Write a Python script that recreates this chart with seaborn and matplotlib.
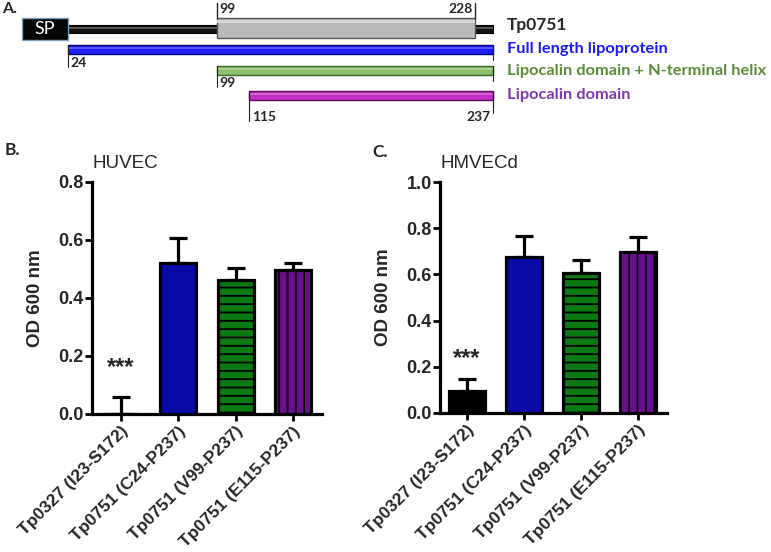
import matplotlib
matplotlib.use("Agg")
import matplotlib.pyplot as plt
import seaborn as sns
import numpy as np
from matplotlib.patches import Rectangle

# ---------------- data ----------------
categories = ["Tp0327 (I23-S172)", "Tp0751 (C24-P237)", "Tp0751 (V99-P237)", "Tp0751 (E115-P237)"]
huvec_mean = [0.0, 0.52, 0.462, 0.497]
huvec_err = [0.06, 0.086, 0.040, 0.023]
hmvec_mean = [0.095, 0.677, 0.605, 0.696]
hmvec_err = [0.051, 0.090, 0.058, 0.065]
bar_colors = ["#000000", "#0a0aa6", "#0b7a12", "#6c0f8e"]
bar_hatches = ["", "", "--", "||"]

# Panel A: residue numbers of the constructs
sp_range = (1, 24)
protein_end = 237
lipocalin_box = (99, 228)
constructs = [(24, 237), (99, 237), (115, 237)]
construct_names = ["Full length lipoprotein", "Lipocalin domain + N-terminal helix", "Lipocalin domain"]
construct_colors = ["#1e1eff", "#8cbf6c", "#c22fc4"]
construct_edges = ["#00007a", "#3d6a2a", "#5e0a60"]
construct_text_colors = ["#1a1aff", "#5b8c3a", "#8038b0"]

W, H = 771, 552
sns.set_style("ticks")
plt.rcParams["font.family"] = ["Liberation Sans", "DejaVu Sans"]
plt.rcParams["hatch.linewidth"] = 1.3

fig = plt.figure(figsize=(W / 100, H / 100), dpi=100)

# ---------------- Panel A ----------------
axA = fig.add_axes([0, 0, 1, 1], zorder=0)
a0, b0 = 20.0, 1.9945
axA.set_xlim((0 - a0) / b0, (W - a0) / b0)
axA.set_ylim(H, 0)
axA.axis("off")
afont = ["Lato", "DejaVu Sans"]
num_fs = 10

# backbone line
axA.add_patch(Rectangle((sp_range[1], 25), protein_end - sp_range[1], 8, facecolor="#111111", edgecolor="#000000", lw=0.8))
axA.add_patch(Rectangle((sp_range[1], 27), protein_end - sp_range[1], 1.5, facecolor="#555555", edgecolor="none"))
# SP box
axA.add_patch(Rectangle((sp_range[0], 18), sp_range[1] - sp_range[0], 22, facecolor="#050505", edgecolor="#7f9fbf", lw=1.0))
axA.text((sp_range[0] + sp_range[1]) / 2, 29, "SP", color="white", ha="center", va="center", fontsize=13, family=afont)
# lipocalin grey box
axA.add_patch(Rectangle((lipocalin_box[0], 18), lipocalin_box[1] - lipocalin_box[0], 20, facecolor="#b9b9b9", edgecolor="#555555", lw=1.0))
axA.add_patch(Rectangle((lipocalin_box[0], 20), lipocalin_box[1] - lipocalin_box[0], 3, facecolor="#d6d6d6", edgecolor="none"))
for r in lipocalin_box:
    axA.plot([r, r], [3, 18], color="#222222", lw=1.0)
axA.text(lipocalin_box[0] + 1, 9, str(lipocalin_box[0]), ha="left", va="center", fontsize=num_fs, fontweight="bold", family=afont)
axA.text(lipocalin_box[1] - 1, 9, str(lipocalin_box[1]), ha="right", va="center", fontsize=num_fs, fontweight="bold", family=afont)
axA.annotate("Tp0751", xy=(protein_end, 25), xytext=(14, 0), textcoords="offset pixels", ha="left", va="center",
             fontsize=12.5, fontweight="bold", family=afont)

bar_y = [45, 66, 91]
bar_h = 9
num_y = [63, 83, 117]
for (s, e), name, fc, ec, tc, y, ny in zip(constructs, construct_names, construct_colors, construct_edges,
                                           construct_text_colors, bar_y, num_y):
    axA.add_patch(Rectangle((s, y), e - s, bar_h, facecolor=fc, edgecolor=ec, lw=1.0))
    axA.add_patch(Rectangle((s, y + 1.5), e - s, 2, facecolor="white", alpha=0.25, edgecolor="none"))
    axA.plot([s, s], [y, ny + 4], color="#222222", lw=0.8)
    axA.plot([e, e], [y, y + bar_h + 6], color="#222222", lw=0.8)
    axA.text(s + 1.2, ny, str(s), ha="left", va="center", fontsize=num_fs, fontweight="bold", family=afont)
    axA.annotate(name, xy=(e, y + bar_h / 2), xytext=(14, 0), textcoords="offset pixels", ha="left", va="center",
                 fontsize=11.8, fontweight="bold", color=tc, family=afont)
axA.plot([protein_end, protein_end], [bar_y[2], num_y[2] - 4], color="#222222", lw=0.8)
axA.text(protein_end - 1, num_y[2], str(protein_end), ha="right", va="center", fontsize=num_fs, fontweight="bold", family=afont)

fig.text(2 / W, 1 - 9 / H, "A.", ha="left", va="center", fontsize=11.5, fontweight="bold", family=afont)
fig.text(5 / W, 1 - 150 / H, "B.", ha="left", va="center", fontsize=12.5, fontweight="bold", family=afont)
fig.text(372 / W, 1 - 152 / H, "C.", ha="left", va="center", fontsize=12.5, fontweight="bold", family=afont)


# ---------------- Panels B and C ----------------
def bar_panel(rect, means, errs, ymax, xlim, title, star_y):
    ax = fig.add_axes(rect, zorder=2)
    sns.barplot(x=categories, y=means, hue=categories, palette=bar_colors, legend=False, saturation=1,
                width=0.63, edgecolor="black", linewidth=2.3, ax=ax, zorder=3)
    for p, h in zip(ax.patches, bar_hatches):
        if h:
            p.set_hatch(h)
    x = np.arange(len(categories))
    ax.errorbar(x, means, yerr=[np.zeros(len(errs)), errs], fmt="none", ecolor="black",
                elinewidth=2.3, capsize=6.5, capthick=2.3, zorder=2)
    ax.set_ylim(0, ymax)
    ax.set_xlim(*xlim)
    ax.set_yticks(np.round(np.arange(0, ymax + 0.001, 0.2), 1))
    ax.set_yticklabels([f"{v:.1f}" for v in np.arange(0, ymax + 0.001, 0.2)], fontsize=13, fontweight="bold")
    ax.set_xticks(x)
    ax.set_xticklabels(categories, rotation=45, ha="right", rotation_mode="anchor", fontsize=12.5, fontweight="bold")
    ax.tick_params(axis="both", width=2.0, length=5, color="black", pad=2)
    ax.tick_params(axis="y", pad=1)
    for s in ["left", "bottom"]:
        ax.spines[s].set_linewidth(2.3)
        ax.spines[s].set_color("black")
    sns.despine(ax=ax)
    ax.set_ylabel("OD 600 nm", fontsize=13.5, fontweight="bold", labelpad=10)
    ax.text(0.0, 1.08, title, transform=ax.transAxes, fontsize=13.5, ha="left", va="center")
    ax.text(0, star_y, "***", ha="center", va="center", fontsize=17, fontweight="bold")
    return ax


axB = bar_panel([92 / W, 1 - 414 / H, 230 / W, 232 / H], huvec_mean, huvec_err, 0.8, (-0.506, 3.508), "HUVEC", 0.16)
axC = bar_panel([440 / W, 1 - 412.7 / H, 227 / W, 230.4 / H], hmvec_mean, hmvec_err, 1.0, (-0.474, 3.509), "HMVECd", 0.235)

fig.savefig("out.png", dpi=100)
